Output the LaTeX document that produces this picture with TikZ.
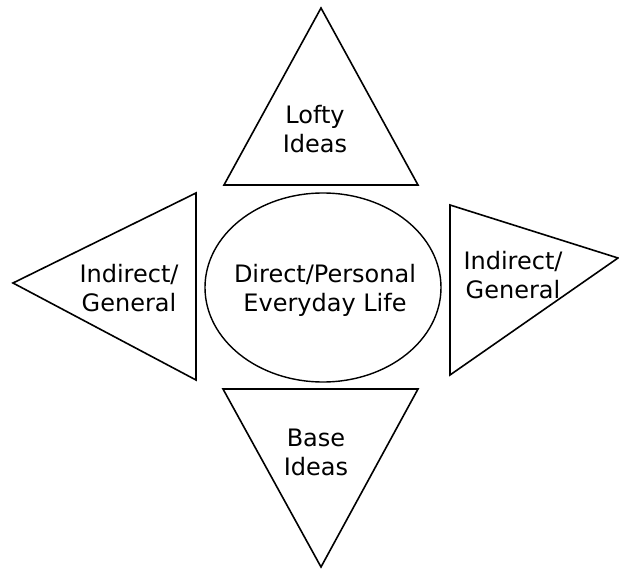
\documentclass[tikz,border=0pt]{standalone}
\usepackage{fontspec}
\setmainfont{DejaVu Sans}
\begin{document}
\begin{tikzpicture}[x=1pt,y=-1pt,
  shapeline/.style={draw=black,line width=1.6pt,line join=miter},
  lbl/.style={inner sep=0pt,align=center,font=\fontsize{24}{28.5}\selectfont}]
\useasboundingbox (0,0) rectangle (619,569);
% top triangle
\coordinate (tA) at (224,185); \coordinate (tB) at (418,185); \coordinate (tC) at (321,8);
\draw[shapeline] (tA) -- (tB) -- (tC) -- cycle;
% bottom triangle
\coordinate (bA) at (223,389); \coordinate (bB) at (418,389); \coordinate (bC) at (321,567);
\draw[shapeline] (bA) -- (bB) -- (bC) -- cycle;
% left triangle
\coordinate (lA) at (13,283); \coordinate (lB) at (196,193); \coordinate (lC) at (196,380);
\draw[shapeline] (lA) -- (lB) -- (lC) -- cycle;
% right triangle
\coordinate (rA) at (450,205); \coordinate (rB) at (450,375); \coordinate (rC) at (618,258);
\draw[shapeline] (rA) -- (rC) -- (rB) -- cycle;
% centre ellipse
\coordinate (ec) at (323,287.5);
\draw[draw=black,line width=1.4pt] (ec) ellipse [x radius=118, y radius=94.5];
% labels
\node[lbl] (lofty) at (315,132.5) {\strut Lofty\\\strut Ideas};
\node[lbl] (base) at (316,455.5) {\strut Base\\\strut Ideas};
\node[lbl] (direct) at (325,291.5) {\strut Direct/Personal\\\strut Everyday Life};
\node[lbl] (left) at (129,291.5) {\strut Indirect/\\\strut General};
\node[lbl] (right) at (513,278.5) {\strut Indirect/\\\strut General};
\end{tikzpicture}
\end{document}
